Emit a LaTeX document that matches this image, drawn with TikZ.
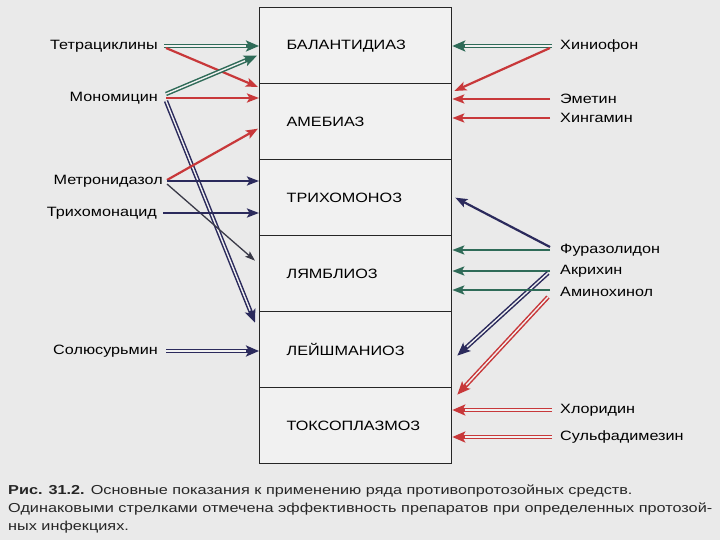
\documentclass[tikz,border=0pt]{standalone}
\usepackage{fontspec}
\setmainfont{Liberation Sans}[FakeStretch=1.2]
\newfontfamily\capfont{Liberation Sans}[FakeStretch=1.25]
\usetikzlibrary{arrows.meta,calc}
\definecolor{bgc}{HTML}{EAEAEA}
\definecolor{boxc}{HTML}{F1F1F1}
\definecolor{grn}{HTML}{2F6B58}
\definecolor{rd}{HTML}{C8383A}
\definecolor{nv}{HTML}{2B2A5C}
\definecolor{dk}{HTML}{3A3A48}
\tikzset{
  sect/.style={draw=black!85, line width=1.3pt, fill=boxc, minimum height=76pt, text width=138pt, inner xsep=27pt, align=left, font=\fontsize{13.5}{15}\selectfont, anchor=north west},
  lbl/.style={font=\fontsize{13.5}{15}\selectfont, inner sep=0pt},
  sgl/.style={line width=2.2pt, -{Stealth[length=12pt,width=9pt,inset=2.5pt]}},
  thin/.style={line width=1.3pt, -{Stealth[length=10pt,width=7pt,inset=2pt]}},
  dblo/.style={line width=4.4pt, -{Stealth[length=13pt,width=11pt,inset=3pt]}},
  dbli/.style={line width=1.4pt, draw=boxc, shorten >=13pt},
}
\newcommand\dblarrow[3]{%
  \draw[dblo,#1] #2 -- #3;
  \draw[dbli] #2 -- #3;}
\begin{document}
\begin{tikzpicture}[x=1pt,y=-1pt]
\fill[bgc] (0,0) rectangle (720,540);
\useasboundingbox (0,0) rectangle (720,540);
% sections
\node[sect] (bal) at (259,7) {БАЛАНТИДИАЗ};
\node[sect] (ame) at (259,83) {АМЕБИАЗ};
\node[sect] (tri) at (259,159) {ТРИХОМОНОЗ};
\node[sect] (lyam) at (259,235) {ЛЯМБЛИОЗ};
\node[sect] (leish) at (259,311) {ЛЕЙШМАНИОЗ};
\node[sect] (toxo) at (259,387) {ТОКСОПЛАЗМОЗ};
% left labels
\node[lbl, anchor=east] (tet) at (158,46) {Тетрациклины};
\node[lbl, anchor=east] (mono) at (158,98) {Мономицин};
\node[lbl, anchor=east] (metro) at (163,181) {Метронидазол};
\node[lbl, anchor=east] (trich) at (157,213) {Трихомонацид};
\node[lbl, anchor=east] (sol) at (158,351) {Солюсурьмин};
% right labels
\node[lbl, anchor=west] (hin) at (560,46) {Хиниофон};
\node[lbl, anchor=west] (eme) at (560,99) {Эметин};
\node[lbl, anchor=west] (hing) at (560,118) {Хингамин};
\node[lbl, anchor=west] (fur) at (560,250) {Фуразолидон};
\node[lbl, anchor=west] (akr) at (560,271) {Акрихин};
\node[lbl, anchor=west] (amin) at (560,292) {Аминохинол};
\node[lbl, anchor=west] (hlor) at (560,410) {Хлоридин};
\node[lbl, anchor=west] (sulf) at (560,437) {Сульфадимезин};
% left arrows
\dblarrow{grn}{($(tet.east)+(6,0)$)}{(tet.east -| bal.west)}
\draw[sgl,rd] ($(tet.east)+(8,2)$) -- ($(ame.north west)+(-1,4)$);
\dblarrow{grn}{($(mono.east)+(8,-4)$)}{($(bal.west)+(-2,10)$)}
\draw[sgl,rd] ($(mono.east)+(8,0)$) -- (mono.east -| ame.west);
\dblarrow{nv}{($(mono.east)+(8,3)$)}{($(leish.west)+(-4,-27)$)}
\draw[sgl,rd] ($(metro.east)+(4,-1)$) -- ($(ame.west)+(-1,7)$);
\draw[sgl,nv] ($(metro.east)+(4,0)$) -- (metro.east -| tri.west);
\draw[thin,dk] ($(metro.east)+(4,3)$) -- ($(lyam.west)+(-4,-13)$);
\draw[sgl,nv] ($(trich.east)+(6,0)$) -- (trich.east -| tri.west);
\dblarrow{nv}{($(sol.east)+(8,0)$)}{(sol.east -| leish.west)}
% right arrows
\dblarrow{grn}{($(hin.west)+(-8,0)$)}{(hin.west -| bal.east)}
\draw[sgl,rd] ($(hin.west)+(-10,2)$) -- ($(ame.north east)+(2,8)$);
\draw[sgl,rd] ($(eme.west)+(-10,0)$) -- (eme.west -| ame.east);
\draw[sgl,rd] ($(hing.west)+(-10,0)$) -- (hing.west -| ame.east);
\draw[sgl,nv] ($(fur.west)+(-10,-3)$) -- ($(tri.east)+(3,0)$);
\draw[sgl,grn] ($(fur.west)+(-10,0)$) -- (fur.west -| lyam.east);
\draw[sgl,grn] ($(akr.west)+(-10,0)$) -- (akr.west -| lyam.east);
\dblarrow{nv}{($(akr.west)+(-12,2)$)}{($(leish.east)+(5,6)$)}
\draw[sgl,grn] ($(amin.west)+(-10,-2)$) -- ($(amin.west -| lyam.east)+(0,-2)$);
\dblarrow{rd}{($(amin.west)+(-12,5)$)}{($(toxo.east)+(5,-31)$)}
\dblarrow{rd}{($(hlor.west)+(-8,0)$)}{(hlor.west -| toxo.east)}
\dblarrow{rd}{($(sulf.west)+(-8,0)$)}{(sulf.west -| toxo.east)}
% caption
\begin{scope}[every node/.style={anchor=base west, inner sep=0pt, font=\capfont\fontsize{13}{15}\selectfont, text=black!85}]
\node (c1) at (8,494) {\textbf{Рис. 31.2.} Основные показания к применению ряда противопротозойных средств.};
\node (c2) at (8,512) {Одинаковыми стрелками отмечена эффективность препаратов при определенных протозой-};
\node (c3) at (8,530) {ных инфекциях.};
\end{scope}
\end{tikzpicture}
\end{document}
